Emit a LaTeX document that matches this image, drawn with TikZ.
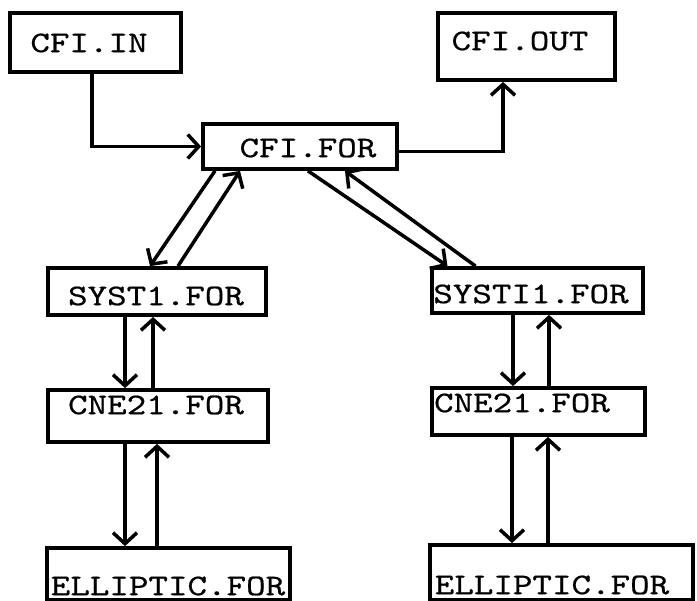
\documentclass[tikz,border=0pt]{standalone}
\usepackage{fontspec}
\newfontfamily\tw{lmmono10-regular.otf}[FakeStretch=1.24,FakeBold=0.6]
\usetikzlibrary{arrows.meta}
\begin{document}
\begin{tikzpicture}[x=1pt,y=-1pt,
  box/.style={draw,line width=3.8pt,rectangle,inner sep=0pt},
  lbl/.style={inner sep=0pt,font=\tw\fontsize{30}{30}\selectfont},
  arr/.style={line width=3.5pt,-{Straight Barb[length=11pt,width=24pt,line width=3.5pt]}}]
\useasboundingbox (0,0) rectangle (697,601);
% boxes
\node[box,minimum width=171pt,minimum height=59pt] (in) at (95.5,42.5) {};
\node[box,minimum width=177pt,minimum height=67pt] (out) at (526.5,46.5) {};
\node[box,minimum width=194pt,minimum height=45pt] (f) at (300,146.5) {};
\node[box,minimum width=218pt,minimum height=47pt] (s1) at (157,291.5) {};
\node[box,minimum width=211pt,minimum height=45pt] (s2) at (537.5,290.5) {};
\node[box,minimum width=220pt,minimum height=52pt] (c1) at (158,416) {};
\node[box,minimum width=213pt,minimum height=47pt] (c2) at (538.5,411.5) {};
\node[box,minimum width=243pt,minimum height=52pt] (e1) at (168.5,574) {};
\node[box,minimum width=263pt,minimum height=55pt] (e2) at (561.5,572.5) {};
% labels
\node[lbl] (inT) at (89,43) {CFI.IN};
\node[lbl] (outT) at (520,41) {CFI.OUT};
\node[lbl] (fT) at (308,148) {CFI.FOR};
\node[lbl] (s1T) at (156,296) {SYST1.FOR};
\node[lbl] (s2T) at (531,294) {SYSTI1.FOR};
\node[lbl] (c1T) at (156,405) {CNE21.FOR};
\node[lbl] (c2T) at (522,403) {CNE21.FOR};
\node[lbl] (e1T) at (168,586) {ELLIPTIC.FOR};
\node[lbl] (e2T) at (552,585) {ELLIPTIC.FOR};
% top connectors
\draw[arr] ([xshift=-3.5pt]in.south) |- (f.west);
\draw[arr] ([yshift=-5pt]f.east) -| ([xshift=-23.5pt]out.south);
% diagonals left
\draw[arr] ([xshift=-85pt]f.south) -- ([xshift=-7pt]s1.north);
\draw[arr] ([xshift=21pt]s1.north) -- ([xshift=-60pt]f.south);
% diagonals right
\draw[arr] ([xshift=8pt]f.south) -- ([xshift=-90pt]s2.north);
\draw[arr] ([xshift=-62pt]s2.north) -- ([xshift=45pt]f.south);
% left column
\draw[arr] ([xshift=-32pt]s1.south) -- ([xshift=-32pt]s1.south |- c1.north);
\draw[arr] ([xshift=-5pt]c1.north) -- ([xshift=-5pt]c1.north |- s1.south);
\draw[arr] ([xshift=-33pt]c1.south) -- ([xshift=-33pt]c1.south |- e1.north);
\draw[arr] ([xshift=-1pt]c1.south |- e1.north) -- ([xshift=-1pt]c1.south);
% right column
\draw[arr] ([xshift=-24.5pt]s2.south) -- ([xshift=-24.5pt]s2.south |- c2.north);
\draw[arr] ([xshift=11.5pt]s2.south |- c2.north) -- ([xshift=11.5pt]s2.south);
\draw[arr] ([xshift=-26.5pt]c2.south) -- ([xshift=-26.5pt]c2.south |- e2.north);
\draw[arr] ([xshift=9.5pt]c2.south |- e2.north) -- ([xshift=9.5pt]c2.south);
\end{tikzpicture}
\end{document}
